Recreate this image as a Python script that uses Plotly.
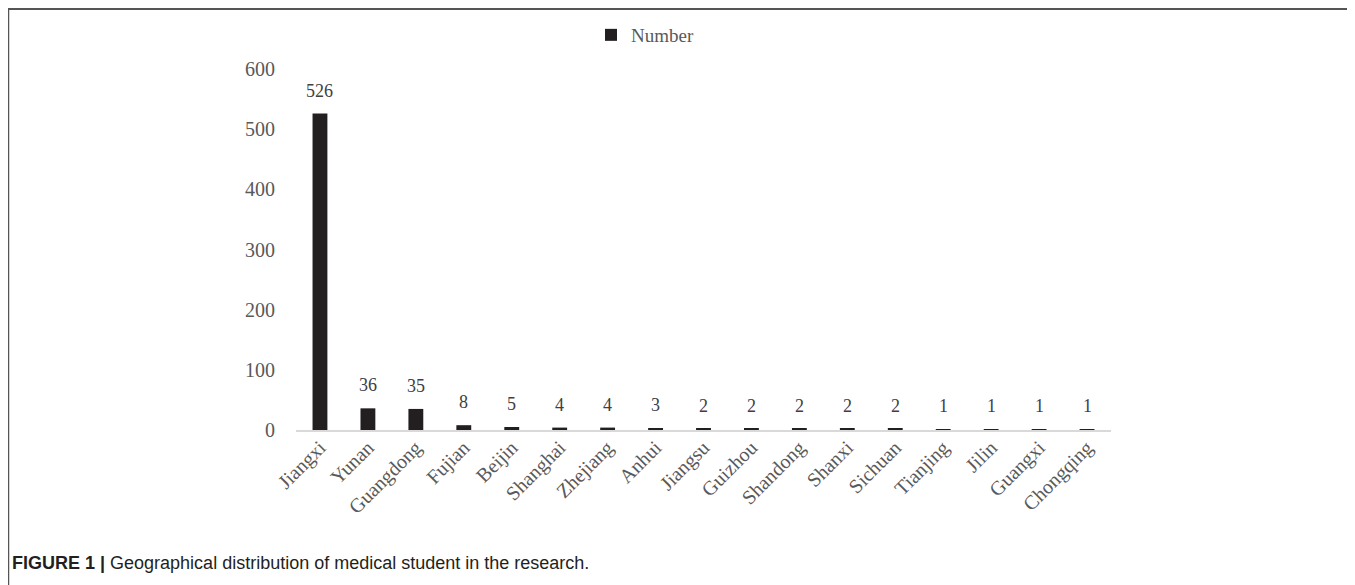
import plotly.graph_objects as go

categories = ["Jiangxi", "Yunan", "Guangdong", "Fujian", "Beijin", "Shanghai", "Zhejiang",
              "Anhui", "Jiangsu", "Guizhou", "Shandong", "Shanxi", "Sichuan", "Tianjing",
              "Jilin", "Guangxi", "Chongqing"]
values = [526, 36, 35, 8, 5, 4, 4, 3, 2, 2, 2, 2, 2, 1, 1, 1, 1]
y_ticks = [0, 100, 200, 300, 400, 500, 600]

W, H = 1355, 585
serif = "Liberation Serif, Times New Roman, serif"

fig = go.Figure()
fig.add_trace(go.Bar(
    x=categories, y=values, name="Number",
    marker=dict(color="#231f20", line=dict(width=0)),
    width=0.31,
    cliponaxis=False,
))

# value labels, placed through the data scales
for c, v in zip(categories, values):
    fig.add_annotation(x=c, y=v, xref="x", yref="y", text=str(v), showarrow=False,
                       yanchor="middle", yshift=23,
                       font=dict(family=serif, size=18, color="#404040"))

fig.update_layout(
    template="none",
    width=W, height=H,
    margin=dict(l=0, r=0, t=0, b=0, pad=0, autoexpand=False),
    paper_bgcolor="white", plot_bgcolor="white",
    showlegend=True,
    legend=dict(orientation="h", x=583 / W, xanchor="left", y=1 - 27 / H, yanchor="middle",
                font=dict(family=serif, size=19, color="#595959"),
                itemwidth=30, bgcolor="rgba(0,0,0,0)"),
    xaxis=dict(domain=[288 / W, 1103 / W], showgrid=False, showline=True, automargin=False,
               linecolor="#d9d9d9", linewidth=2, ticks="", tickangle=-45,
               ticklabelstandoff=-4,
               tickfont=dict(family=serif, size=20, color="#595959"), fixedrange=True),
    yaxis=dict(domain=[1 - 422 / H, 1 - 61 / H], range=[0, 600], tickvals=y_ticks,
               showgrid=False, showline=False, zeroline=False, ticks="", automargin=False,
               ticklabelstandoff=20,
               tickfont=dict(family=serif, size=20, color="#595959"), fixedrange=True),
    bargap=0.69,
)

# figure frame (top and left edges)
fig.add_shape(type="line", xref="paper", yref="paper", x0=0, x1=1, y0=1 - 1 / H, y1=1 - 1 / H,
              line=dict(color="#555555", width=2))
fig.add_shape(type="line", xref="paper", yref="paper", x0=0.5 / W, x1=0.5 / W, y0=0, y1=1,
              line=dict(color="#555555", width=1.5))

fig.add_annotation(
    xref="paper", yref="paper", x=2 / W, y=1 - 555 / H, xanchor="left", yanchor="middle",
    showarrow=False,
    text="<b>FIGURE 1 |</b> Geographical distribution of medical student in the research.",
    font=dict(family="Liberation Sans, Arial, sans-serif", size=18, color="#231f20"),
)

fig.write_html("out.html")
